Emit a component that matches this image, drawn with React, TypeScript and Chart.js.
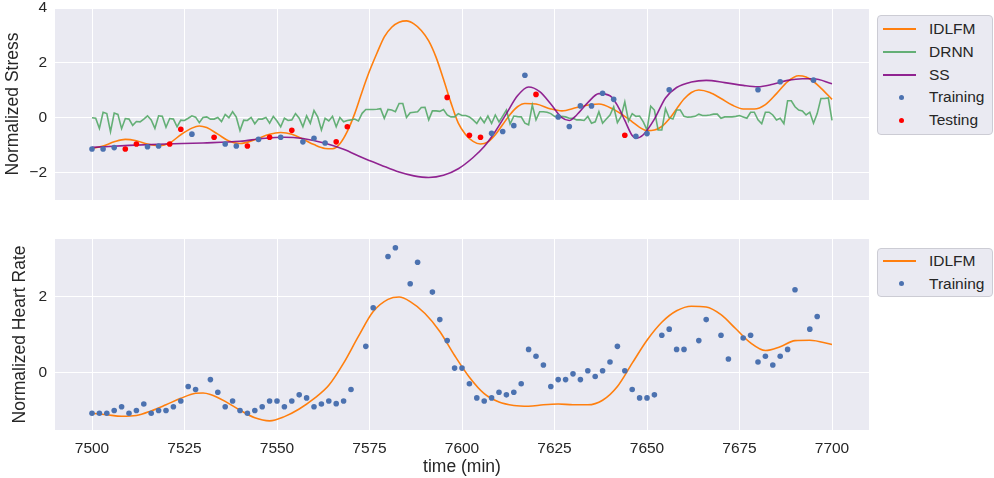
import React, { useEffect, useRef } from "react";
import { Chart, registerables } from "chart.js";
Chart.register(...registerables);

const FONT = '"Liberation Sans", Arial, sans-serif';
const TEXT = "#262626";
const ORANGE = "#FF7F0E";
const GREEN = "rgba(85,168,104,0.9)";
const PURPLE = "rgba(128,0,128,0.85)";
const BLUE = "#4C72B0";
const RED = "#FF0000";

// ---------- axes ----------
const xTicks = [7500, 7525, 7550, 7575, 7600, 7625, 7650, 7675, 7700];
const stressTicks = [-2, 0, 2, 4];
const hrTicks = [0, 2];

// ---------- top panel: Normalized Stress ----------
const stressIdlfmT = [7500, 7503, 7506, 7509, 7512, 7515, 7518, 7521, 7524, 7527, 7529, 7531, 7534, 7537, 7540, 7544, 7548, 7551, 7554, 7557, 7560, 7563, 7565, 7567, 7569, 7571, 7573, 7575, 7577, 7579, 7581, 7583, 7585, 7587, 7589, 7591, 7593, 7595, 7597, 7599, 7601, 7603, 7605, 7607, 7609, 7611, 7613, 7615, 7617, 7620, 7624, 7627, 7631, 7635, 7637, 7641, 7644, 7646, 7648, 7650, 7652, 7654, 7656, 7658, 7660, 7662, 7664, 7667, 7670, 7673, 7676, 7679, 7682, 7685, 7688, 7691, 7693, 7695, 7697, 7700];
const stressIdlfmV = [-1.12, -1.03, -0.88, -0.79, -0.84, -0.96, -1.02, -0.92, -0.62, -0.38, -0.3, -0.36, -0.6, -0.85, -0.94, -0.8, -0.6, -0.54, -0.6, -0.78, -0.98, -1.12, -1.13, -0.95, -0.5, 0.15, 0.95, 1.7, 2.35, 2.95, 3.3, 3.48, 3.53, 3.42, 3.18, 2.8, 2.2, 1.4, 0.55, -0.2, -0.62, -0.86, -0.96, -0.88, -0.62, -0.25, 0.12, 0.4, 0.52, 0.5, 0.32, 0.25, 0.37, 0.48, 0.5, 0.3, 0.05, -0.15, -0.35, -0.47, -0.45, -0.32, -0.05, 0.32, 0.68, 0.92, 1.01, 0.92, 0.7, 0.46, 0.32, 0.32, 0.48, 0.88, 1.32, 1.53, 1.48, 1.32, 1.08, 0.67];

const stressSsT = [7500, 7510, 7520, 7530, 7540, 7546, 7552, 7557, 7563, 7568, 7573, 7578, 7583, 7587, 7591, 7595, 7599, 7603, 7606, 7609, 7612, 7615, 7618, 7621, 7624, 7627, 7629, 7631, 7634, 7637, 7640, 7642, 7644, 7646, 7647, 7649, 7652, 7655, 7658, 7662, 7666, 7671, 7676, 7680, 7684, 7688, 7692, 7695, 7700];
const stressSsV = [-1.08, -1.01, -0.96, -0.92, -0.86, -0.76, -0.71, -0.76, -0.93, -1.15, -1.45, -1.72, -1.98, -2.12, -2.18, -2.1, -1.86, -1.45, -1.05, -0.5, 0.15, 0.8, 1.12, 0.95, 0.5, 0.0, -0.1, 0.1, 0.55, 0.88, 0.8, 0.45, -0.1, -0.65, -0.75, -0.62, -0.05, 0.72, 1.1, 1.3, 1.36, 1.28, 1.18, 1.13, 1.22, 1.36, 1.42, 1.42, 1.24];

const DRNN_START = 7500; // one value per minute, 7500..7700
const drnnV = [
  0.0, -0.02, -0.39, 0.2, 0.15, -0.51, 0.17, 0.12, -0.4, -0.03,
  -0.05, -0.28, -0.14, -0.15, -0.05, 0.07, -0.08, -0.39, 0.07, 0.05,
  -0.35, -0.03, -0.05, -0.33, -0.09, -0.1, -0.02, 0.07, 0.02, -0.18,
  0.01, 0.03, -0.05, -0.05, 0.01, -0.14, 0.12, 0.0, 0.22, 0.02,
  -0.47, -0.09, -0.1, 0.01, -0.22, -0.05, -0.05, 0.01, -0.2, 0.05,
  -0.12, -0.33, -0.02, -0.1, -0.08, 0.15, -0.02, -0.33, 0.07, -0.2,
  0.26, 0.03, -0.45, -0.02, -0.12, 0.05, -0.33, 0.01, -0.15, -0.1,
  -0.08, -0.05, -0.12, 0.16, 0.3, 0.3, 0.3, 0.31, 0.33, -0.02,
  0.3, 0.28, 0.22, 0.52, 0.52, 0.01, 0.18, 0.2, 0.22, 0.37,
  0.38, -0.08, 0.25, 0.25, 0.23, 0.3, 0.1, 0.03, 0.03, 0.15,
  0.08, 0.08, 0.03, -0.08, -0.21, 0.01, -0.18, 0.06, -0.21, 0.1,
  -0.15, 0.06, 0.28, -0.23, 0.06, 0.04, 0.03, -0.2, -0.26, 0.46,
  -0.08, 0.22, 0.22, 0.2, 0.15, 0.05, 0.0, 0.05, 0.03, -0.02,
  -0.02, -0.08, -0.08, -0.1, 0.05, -0.2, -0.15, 0.22, -0.2, -0.05,
  0.1, 0.4, -0.18, 0.05, 0.58, -0.12, 0.15, 0.05, 0.06, -0.15,
  -0.45, 0.42, 0.28, -0.45, -0.45, 0.33, 0.0, -0.05, 0.28, 0.28,
  0.05, 0.02, 0.03, 0.05, 0.13, 0.08, 0.08, 0.1, 0.13, 0.13,
  -0.02, 0.03, 0.03, 0.03, 0.05, 0.08, 0.03, -0.02, 0.2, 0.2,
  -0.08, -0.22, 0.2, 0.2, 0.1, -0.08, -0.02, -0.22, 0.62, 0.62,
  0.4, 0.28, 0.25, 0.1, 0.2, -0.2, 0.15, 0.7, 0.7, 0.72,
  -0.1,
];

const stressTrainT = [7500, 7503, 7506, 7515, 7518, 7527, 7536, 7539, 7545, 7551, 7557, 7560, 7563, 7608, 7611, 7614, 7617, 7626, 7629, 7632, 7635, 7638, 7641, 7647, 7650, 7656, 7680, 7686, 7695];
const stressTrainV = [-1.14, -1.14, -1.09, -1.06, -1.03, -0.6, -0.96, -1.03, -0.79, -0.71, -0.88, -0.75, -0.92, -0.57, -0.5, -0.29, 1.55, 0.03, -0.32, 0.43, 0.43, 0.89, 0.67, -0.68, -0.58, 1.02, 1.02, 1.31, 1.37];

const stressTestT = [7509, 7512, 7521, 7524, 7533, 7542, 7548, 7554, 7566, 7569, 7596, 7602, 7605, 7620, 7644];
const stressTestV = [-1.14, -0.96, -0.96, -0.42, -0.71, -1.03, -0.71, -0.46, -0.88, -0.33, 0.74, -0.64, -0.71, 0.85, -0.64];

// ---------- bottom panel: Normalized Heart Rate ----------
const hrIdlfmT = [7500, 7504, 7508, 7512, 7516, 7520, 7524, 7528, 7530, 7532, 7536, 7540, 7544, 7548, 7552, 7556, 7560, 7564, 7568, 7572, 7576, 7580, 7583, 7586, 7590, 7594, 7598, 7602, 7606, 7610, 7614, 7618, 7622, 7626, 7630, 7634, 7638, 7642, 7646, 7650, 7654, 7658, 7662, 7666, 7670, 7674, 7678, 7682, 7686, 7690, 7694, 7700];
const hrIdlfmV = [-1.06, -1.1, -1.14, -1.12, -1.0, -0.84, -0.67, -0.54, -0.53, -0.57, -0.75, -0.98, -1.18, -1.26, -1.15, -0.95, -0.68, -0.33, 0.25, 0.95, 1.6, 1.92, 1.98, 1.86, 1.55, 1.08, 0.45, -0.12, -0.55, -0.77, -0.86, -0.88, -0.84, -0.82, -0.84, -0.84, -0.72, -0.36, 0.25, 0.85, 1.32, 1.62, 1.74, 1.72, 1.52, 1.15, 0.78, 0.58, 0.68, 0.84, 0.85, 0.74];

const hrTrainT = [7500, 7502, 7504, 7506, 7508, 7510, 7512, 7514, 7516, 7518, 7520, 7522, 7524, 7526, 7528, 7532, 7534, 7536, 7538, 7540, 7542, 7544, 7546, 7548, 7550, 7552, 7554, 7556, 7558, 7560, 7562, 7564, 7566, 7568, 7570, 7574, 7576, 7580, 7582, 7586, 7588, 7592, 7594, 7596, 7598, 7600, 7602, 7604, 7606, 7608, 7610, 7612, 7614, 7616, 7618, 7620, 7622, 7624, 7626, 7628, 7630, 7632, 7634, 7636, 7638, 7640, 7642, 7644, 7646, 7648, 7650, 7652, 7654, 7656, 7658, 7660, 7664, 7666, 7670, 7672, 7676, 7678, 7680, 7682, 7684, 7686, 7688, 7690, 7694, 7696];
const hrTrainV = [-1.06, -1.06, -1.06, -0.99, -0.89, -1.06, -0.99, -0.82, -1.06, -0.99, -0.99, -0.89, -0.74, -0.36, -0.44, -0.18, -0.51, -0.89, -0.74, -0.99, -1.06, -0.99, -0.89, -0.74, -0.74, -0.89, -0.74, -0.58, -0.66, -0.89, -0.82, -0.74, -0.81, -0.74, -0.44, 0.69, 1.7, 3.04, 3.27, 2.33, 2.89, 2.11, 1.39, 0.84, 0.12, 0.12, -0.29, -0.66, -0.74, -0.66, -0.51, -0.58, -0.51, -0.29, 0.61, 0.43, 0.2, -0.36, -0.18, -0.18, -0.03, -0.18, 0.05, -0.1, 0.05, 0.28, 0.69, 0.05, -0.44, -0.66, -0.66, -0.58, 0.98, 1.14, 0.61, 0.61, 0.84, 1.39, 0.98, 0.36, 0.91, 0.98, 0.28, 0.43, 0.2, 0.43, 0.61, 2.17, 1.14, 1.47];

// ---------- helpers ----------
const pts = (t: number[], v: number[]) => t.map((x, i) => ({ x, y: v[i] }));
const fmt = (v: number) => (v < 0 ? "\u2212" + Math.abs(v) : String(v));

const bgPlugin = {
  id: "axesBg",
  beforeDraw(chart: any) {
    const { ctx, chartArea: a } = chart;
    ctx.save();
    ctx.fillStyle = "#EAEAF2";
    ctx.fillRect(a.left, a.top, a.right - a.left, a.bottom - a.top);
    ctx.restore();
  },
};

const lineDs = (label: string, data: any[], color: string, smooth: boolean) => ({
  label,
  data,
  borderColor: color,
  backgroundColor: color,
  borderWidth: 1.6,
  pointRadius: 0,
  fill: false,
  tension: 0,
  cubicInterpolationMode: smooth ? "monotone" : "default",
});

const dotDs = (label: string, data: any[], color: string) => ({
  label,
  data,
  showLine: false,
  pointRadius: 2.8,
  pointBorderWidth: 0,
  pointBackgroundColor: color,
  borderColor: color,
  backgroundColor: color,
});

const xScale = (showLabels: boolean) => ({
  type: "linear",
  min: 7490,
  max: 7710,
  afterBuildTicks: (s: any) => {
    s.ticks = xTicks.map((value) => ({ value }));
  },
  afterFit: (s: any) => {
    s.height = showLabels ? 48 : 0;
    s.paddingLeft = 0;
    s.paddingRight = 0;
  },
  ticks: {
    display: showLabels,
    padding: 9,
    color: TEXT,
    font: { family: FONT, size: 15.5 },
    maxRotation: 0,
    callback: (v: any) => String(v),
  },
  grid: { color: "#FFFFFF", lineWidth: 1, drawTicks: false },
  border: { display: false },
  title: {
    display: showLabels,
    text: "time (min)",
    color: TEXT,
    font: { family: FONT, size: 17.5 },
    padding: { top: 0, bottom: 0.5 },
  },
});

const yScale = (min: number, max: number, ticks: number[], title: string, titlePad: number) => ({
  type: "linear",
  min,
  max,
  afterBuildTicks: (s: any) => {
    s.ticks = ticks.map((value) => ({ value }));
  },
  afterFit: (s: any) => {
    s.width = 55;
    s.paddingTop = 0;
    s.paddingBottom = 0;
  },
  ticks: {
    padding: 8,
    color: TEXT,
    font: { family: FONT, size: 15.5 },
    callback: (v: any) => fmt(Number(v)),
  },
  grid: { color: "#FFFFFF", lineWidth: 1, drawTicks: false },
  border: { display: false },
  title: {
    display: true,
    text: title,
    color: TEXT,
    font: { family: FONT, size: 17.5 },
    padding: { top: titlePad, bottom: 0 },
  },
});

type Item = { label: string; kind: "line" | "dot"; color: string };
const topLegend: Item[] = [
  { label: "IDLFM", kind: "line", color: ORANGE },
  { label: "DRNN", kind: "line", color: GREEN },
  { label: "SS", kind: "line", color: PURPLE },
  { label: "Training", kind: "dot", color: BLUE },
  { label: "Testing", kind: "dot", color: RED },
];
const bottomLegend: Item[] = [
  { label: "IDLFM", kind: "line", color: ORANGE },
  { label: "Training", kind: "dot", color: BLUE },
];

function Legend({ top, height, firstRow, items }: { top: number; height: number; firstRow: number; items: Item[] }) {
  return (
    <div
      style={{
        position: "absolute",
        left: 877,
        top,
        width: 116,
        height,
        boxSizing: "border-box",
        border: "1px solid #CCCCD4",
        borderRadius: 4,
        background: "#EAEAF2",
      }}
    >
      {items.map((it, i) => {
        const cy = firstRow + i * 22.7;
        return (
          <div key={it.label}>
            {it.kind === "line" ? (
              <div style={{ position: "absolute", left: 5, top: cy - 1, width: 33, height: 2, background: it.color }} />
            ) : (
              <div
                style={{
                  position: "absolute",
                  left: 21,
                  top: cy - 2.5,
                  width: 5,
                  height: 5,
                  borderRadius: "50%",
                  background: it.color,
                }}
              />
            )}
            <div
              style={{
                position: "absolute",
                left: 51,
                top: cy - 10,
                height: 20,
                lineHeight: "20px",
                fontFamily: FONT,
                fontSize: 15.5,
                color: TEXT,
                whiteSpace: "nowrap",
              }}
            >
              {it.label}
            </div>
          </div>
        );
      })}
    </div>
  );
}

export default function App() {
  const topRef = useRef<HTMLCanvasElement>(null);
  const botRef = useRef<HTMLCanvasElement>(null);

  useEffect(() => {
    const drnnPts = drnnV.map((y, i) => ({ x: DRNN_START + i, y }));
    const top = new Chart(topRef.current as HTMLCanvasElement, {
      type: "line",
      data: {
        datasets: [
          dotDs("Testing", pts(stressTestT, stressTestV), RED),
          dotDs("Training", pts(stressTrainT, stressTrainV), BLUE),
          lineDs("SS", pts(stressSsT, stressSsV), PURPLE, true),
          lineDs("DRNN", drnnPts, GREEN, false),
          lineDs("IDLFM", pts(stressIdlfmT, stressIdlfmV), ORANGE, true),
        ] as any,
      },
      options: {
        animation: false,
        responsive: false,
        maintainAspectRatio: false,
        layout: { padding: { top: 8, left: 0, right: 125, bottom: 15 } },
        plugins: { legend: { display: false }, tooltip: { enabled: false } },
        scales: {
          x: xScale(false) as any,
          y: yScale(-3, 4, stressTicks, "Normalized Stress", 2.5) as any,
        },
      },
      plugins: [bgPlugin],
    });

    const bottom = new Chart(botRef.current as HTMLCanvasElement, {
      type: "line",
      data: {
        datasets: [
          dotDs("Training", pts(hrTrainT, hrTrainV), BLUE),
          lineDs("IDLFM", pts(hrIdlfmT, hrIdlfmV), ORANGE, true),
        ] as any,
      },
      options: {
        animation: false,
        responsive: false,
        maintainAspectRatio: false,
        layout: { padding: { top: 24, left: 0, right: 125, bottom: 0 } },
        plugins: { legend: { display: false }, tooltip: { enabled: false } },
        scales: {
          x: xScale(true) as any,
          y: yScale(-1.5, 3.5, hrTicks, "Normalized Heart Rate", 9.5) as any,
        },
      },
      plugins: [bgPlugin],
    });

    return () => {
      top.destroy();
      bottom.destroy();
    };
  }, []);

  return (
    <div style={{ position: "fixed", left: 0, top: 0, width: 994, height: 478, background: "#FFFFFF", overflow: "hidden" }}>
      <canvas ref={topRef} width={994} height={215} style={{ position: "absolute", left: 0, top: 0, width: 994, height: 215 }} />
      <canvas ref={botRef} width={994} height={263} style={{ position: "absolute", left: 0, top: 215, width: 994, height: 263 }} />
      <Legend top={15} height={120} firstRow={13.3} items={topLegend} />
      <Legend top={248} height={49} firstRow={12} items={bottomLegend} />
    </div>
  );
}
